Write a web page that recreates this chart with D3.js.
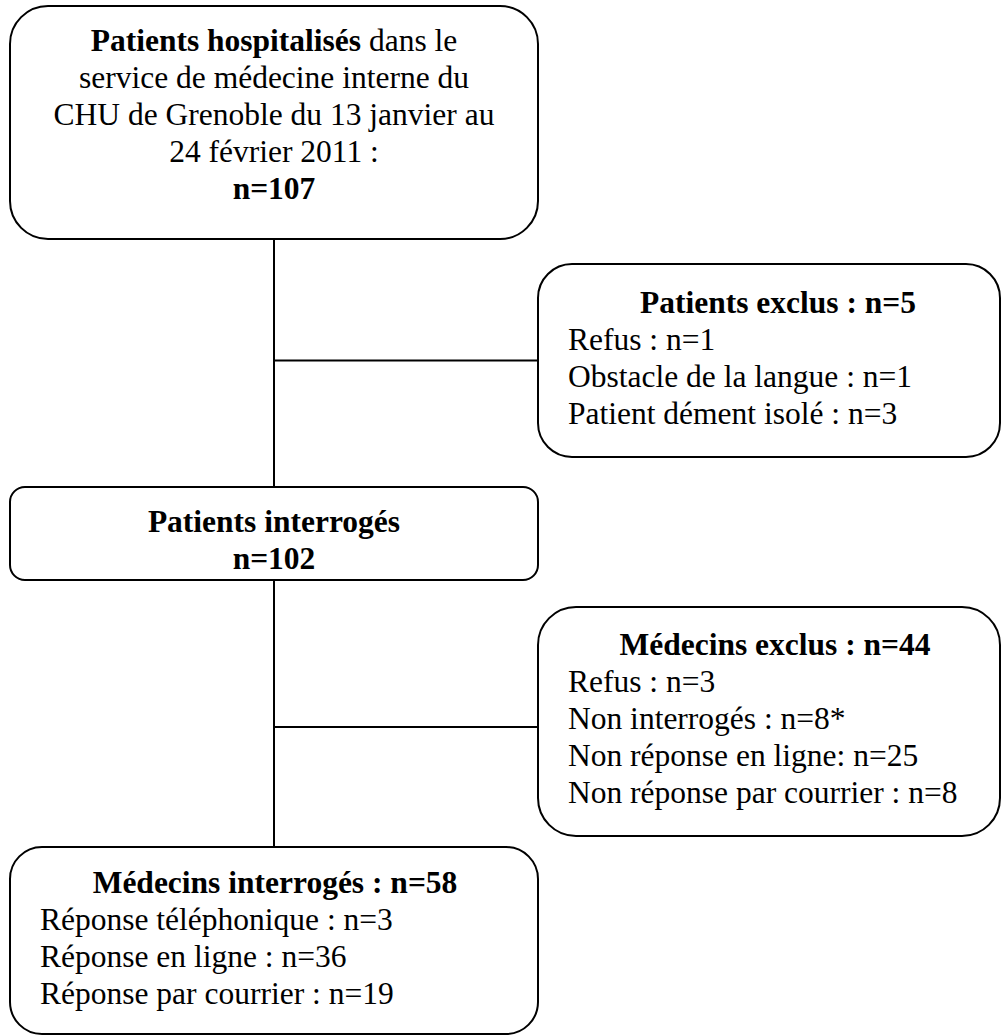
<!DOCTYPE html>
<html>
<head>
<meta charset="utf-8">
<title>Diagramme de flux</title>
<script src="https://d3js.org/d3.v7.min.js"></script>
<style>
  body { margin: 0; background: #fff; }
  text { font-family: "Liberation Serif", "Times New Roman", serif; font-size: 31.5px; fill: #000; }
  .bold { font-weight: bold; }
</style>
</head>
<body>
<svg id="chart" width="1006" height="1035"></svg>
<script>
// texts and counts of the flow chart
const hospTitle = ["Patients hospitalisés", " dans le"];
const hospLines = ["service de médecine interne du", "CHU de Grenoble du 13 janvier au", "24 février 2011 :"];
const hospN = 107;

const patExclLabels = ["Refus", "Obstacle de la langue", "Patient dément isolé"];
const patExclN = [1, 1, 3];

const patIntN = 102;

const medExclLabels = ["Refus", "Non interrogés", "Non réponse en ligne", "Non réponse par courrier"];
const medExclN = ["3", "8*", "25", "8"];
const medExclSep = [" : ", " : ", ": ", " : "];

const medIntLabels = ["Réponse téléphonique", "Réponse en ligne", "Réponse par courrier"];
const medIntN = [3, 36, 19];

// layout
const svg = d3.select("#chart");
svg.append("rect").attr("width", 1006).attr("height", 1035).attr("fill", "#fff");

const lineH = 37;
const stemX = 274;

const boxes = [
  {id: "hosp",     x: 10,  y: 6,   w: 528, h: 233, r: 38},
  {id: "patExcl",  x: 538, y: 264, w: 462, h: 193, r: 34},
  {id: "patInt",   x: 10,  y: 487, w: 528, h: 93,  r: 15},
  {id: "medExcl",  x: 538, y: 607, w: 462, h: 229, r: 38},
  {id: "medInt",   x: 10,  y: 847, w: 528, h: 187, r: 32}
];
const box = {};
boxes.forEach(b => box[b.id] = b);

// connectors
const links = [
  [[stemX, box.hosp.y + box.hosp.h], [stemX, box.patInt.y]],
  [[stemX, box.patInt.y + box.patInt.h], [stemX, box.medInt.y]],
  [[stemX, box.patExcl.y + box.patExcl.h / 2], [box.patExcl.x, box.patExcl.y + box.patExcl.h / 2]],
  [[stemX, 727], [box.medExcl.x, 727]]
];
svg.append("g").selectAll("path").data(links).join("path")
  .attr("d", d3.line())
  .attr("stroke", "#000").attr("stroke-width", 2).attr("fill", "none");

svg.append("g").selectAll("rect").data(boxes).join("rect")
  .attr("x", d => d.x).attr("y", d => d.y)
  .attr("width", d => d.w).attr("height", d => d.h)
  .attr("rx", d => d.r).attr("ry", d => d.r)
  .attr("fill", "#fff").attr("stroke", "#000").attr("stroke-width", 2);

const g = svg.append("g");

// box 1 : centred text
let y0 = 51;
const t1 = g.append("text").attr("x", stemX).attr("y", y0).attr("text-anchor", "middle");
t1.append("tspan").attr("class", "bold").text(hospTitle[0]);
t1.append("tspan").text(hospTitle[1]);
g.selectAll(".hl").data(hospLines).join("text").attr("class", "hl")
  .attr("x", stemX).attr("y", (d, i) => y0 + lineH * (i + 1))
  .attr("text-anchor", "middle").text(d => d);
g.append("text").attr("class", "bold").attr("x", stemX).attr("y", y0 + lineH * 4)
  .attr("text-anchor", "middle").text("n=" + hospN);

// titled boxes with a list underneath
function listBox(b, title, titleX, titleY, lines) {
  g.append("text").attr("class", "bold").attr("x", titleX).attr("y", titleY)
    .attr("text-anchor", "middle").text(title);
  g.selectAll(null).data(lines).join("text")
    .attr("x", b.x + 30).attr("y", (d, i) => titleY + lineH * (i + 1))
    .text(d => d);
}

listBox(box.patExcl, "Patients exclus : n=" + d3.sum(patExclN), 778, 313,
  patExclLabels.map((l, i) => l + " : n=" + patExclN[i]));

// box 3
g.append("text").attr("class", "bold").attr("x", stemX).attr("y", 532)
  .attr("text-anchor", "middle").text("Patients interrogés");
g.append("text").attr("class", "bold").attr("x", stemX).attr("y", 569)
  .attr("text-anchor", "middle").text("n=" + patIntN);

listBox(box.medExcl, "Médecins exclus : n=44", 775, 655,
  medExclLabels.map((l, i) => l + medExclSep[i] + "n=" + medExclN[i]));

listBox(box.medInt, "Médecins interrogés : n=" + d3.sum(medIntN), 275, 893,
  medIntLabels.map((l, i) => l + " : n=" + medIntN[i]));
</script>
</body>
</html>
